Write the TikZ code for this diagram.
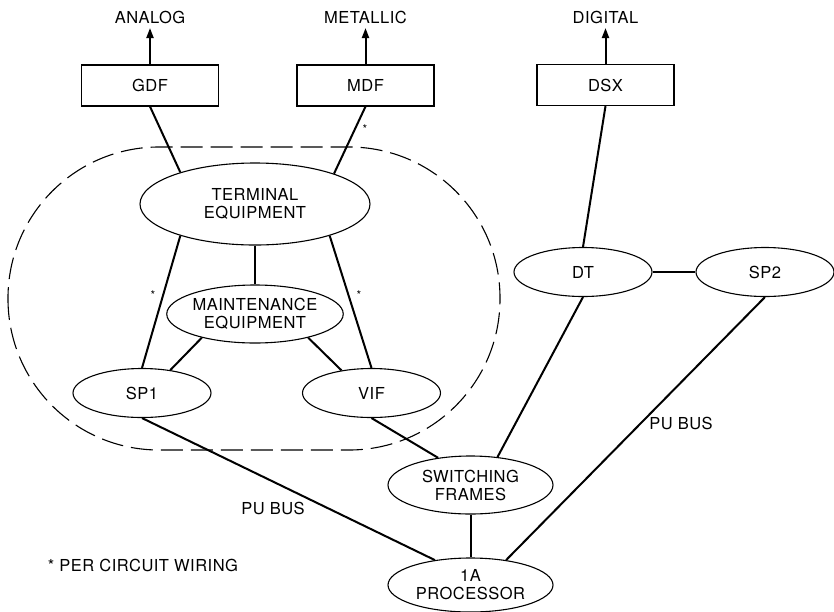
\documentclass[tikz,border=0pt]{standalone}
\usepackage{fontspec}
\setmainfont{TeX Gyre Heros}[LetterSpace=3]
\usepackage{tikz}
\usetikzlibrary{shapes.geometric,arrows.meta}

\begin{document}
\begin{tikzpicture}[x=1pt,y=1pt]
\tikzstyle{every node}+=[inner sep=0pt, align=center, font=\fontsize{16.5}{18}\selectfont]
\tikzstyle{frame}=[draw, line width=1.1pt, minimum width=137pt, minimum height=41pt]
\tikzstyle{unit}=[draw, ellipse, line width=1.1pt, minimum width=138pt, minimum height=49pt]
\tikzstyle{bigunit}=[unit, minimum width=165pt, minimum height=58pt]
\tikzstyle{wire}=[line width=2pt]
\tikzstyle{feed}=[line width=2pt, -{Triangle[length=10pt,width=7pt]}, shorten >=4pt]
\tikzstyle{hint}=[font=\fontsize{12}{12}\selectfont]
\useasboundingbox (0,0) rectangle (834,-611);
\draw [line width=1.1pt, dash pattern=on 22pt off 8pt, rounded corners=151pt] (8,-147) rectangle (500,-450);
\node [frame] (gdf) at (150,-85.5) {GDF};
\node [frame] (mdf) at (365.5,-85.5) {MDF};
\node [frame] (dsx) at (605.5,-85) {DSX};
\node (analog) at (150,-17.5) {ANALOG};
\node (metallic) at (365.5,-17.5) {METALLIC};
\node (digital) at (605.5,-17.5) {DIGITAL};
\node [unit, minimum width=230pt, minimum height=82pt] (term) at (255,-204) {TERMINAL\\EQUIPMENT};
\node [bigunit] (maint) at (255,-314) {MAINTENANCE\\EQUIPMENT};
\node [unit] (sp1) at (142,-393) {SP1};
\node [unit] (vif) at (371.5,-393) {VIF};
\node [unit] (dt) at (583,-272) {DT};
\node [unit] (sp2) at (765,-272) {SP2};
\node [bigunit] (sw) at (470.5,-485) {SWITCHING\\FRAMES};
\node [bigunit, minimum height=54pt] (pa) at (470.5,-585) {1A\\PROCESSOR};
\node (bus1) at (273,-508) {PU BUS};
\node (bus2) at (681,-423) {PU BUS};
\node (key) at (143,-565) {* PER CIRCUIT WIRING};
\node [hint] (star1) at (365,-129.5) {*};
\node [hint] (star2) at (153,-295.5) {*};
\node [hint] (star3) at (359,-295.5) {*};
\draw [feed] (gdf.north) -- (analog.south);
\draw [feed] (mdf.north) -- (metallic.south);
\draw [feed] (dsx.north) -- (digital.south);
\draw [wire] (gdf.south) -- (term.157);
\draw [wire] (mdf.south) -- (term.21);
\draw [wire] (dsx.south) -- (dt.north);
\draw [wire] (term.203) -- (sp1.north);
\draw [wire] (term.south) -- (maint.north);
\draw [wire] (term.337) -- (vif.north);
\draw [wire] (maint.204) -- (sp1.39);
\draw [wire] (maint.336) -- (vif.143);
\draw [wire] (dt.east) -- (sp2.west);
\draw [wire] (dt.south) -- (sw.46);
\draw [wire] (vif.south) -- (sw.140);
\draw [wire] (sp1.south) -- (pa.145);
\draw [wire] (sw.south) -- (pa.north);
\draw [wire] (sp2.south) -- (pa.35);
\end{tikzpicture}
\end{document}
